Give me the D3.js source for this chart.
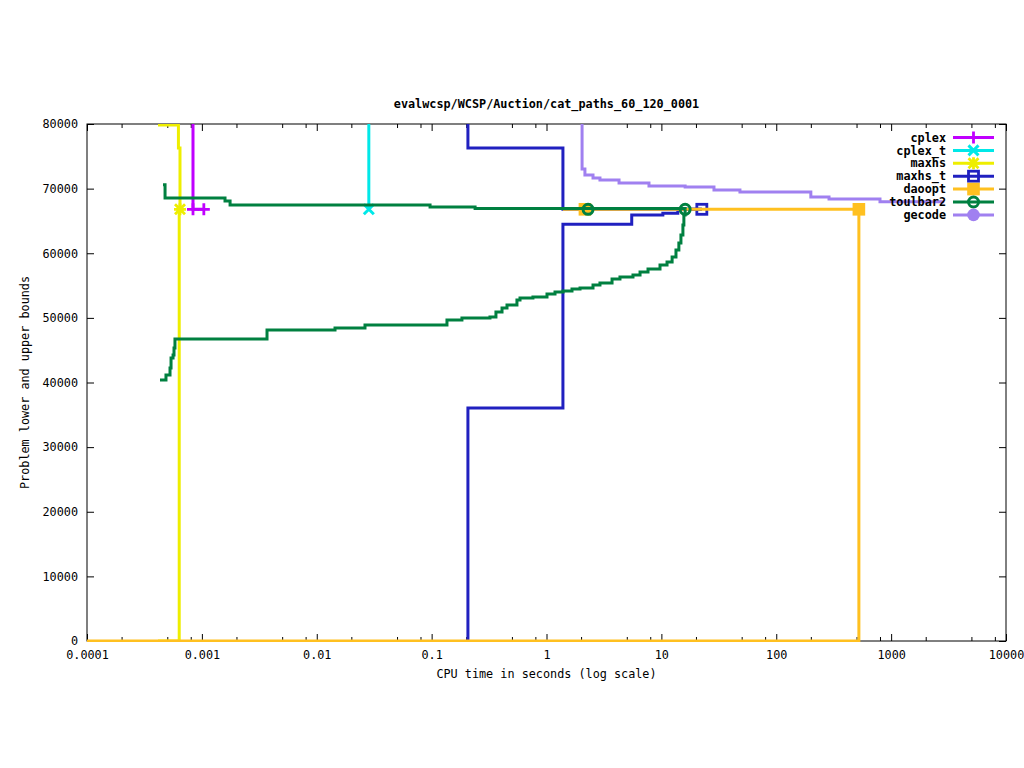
<!DOCTYPE html>
<html><head><meta charset="utf-8">
<script src="https://cdn.jsdelivr.net/npm/d3@7"></script>
<style>
body{margin:0;background:#fff;}
text{font-family:"DejaVu Sans Mono","Liberation Mono",monospace;font-size:11.8px;fill:#000;}
</style></head>
<body><svg id="chart" width="1024" height="768"></svg>
<script>
// ---- data (time in seconds, value) ----
const title = "evalwcsp/WCSP/Auction/cat_paths_60_120_0001";
const xLabel = "CPU time in seconds (log scale)";
const yLabel = "Problem lower and upper bounds";
const xMajorTicks = [0.0001, 0.001, 0.01, 0.1, 1, 10, 100, 1000, 10000];
const xTickLabels = ["0.0001", "0.001", "0.01", "0.1", "1", "10", "100", "1000", "10000"];
const xMinorMultipliers = [2, 5, 8];
const yTicks = [0, 10000, 20000, 30000, 40000, 50000, 60000, 70000, 80000];
const seriesNames = ["cplex", "cplex_t", "maxhs", "maxhs_t", "daoopt", "toulbar2", "gecode"];
const seriesColors = ["#c000ff", "#00e8e8", "#eeee00", "#2020c0", "#ffc020", "#008040", "#a080f0"];
const seriesMarkers = ["plus", "cross", "star", "openSquare", "filledSquare", "openCircle", "filledCircle"];

const cplexUpper = [[0.000837, 95000], [0.000837, 66800], [0.00104, 66800]];
const cplexPoints = [[0.000837, 66800], [0.00104, 66800]];

const cplexTUpper = [[0.0284, 95000], [0.0284, 66800]];
const cplexTPoints = [[0.0284, 66800]];

const maxhsUpper = [[0.000415, 79850], [0.000625, 76290], [0.000645, 66800]];
const maxhsLower = [[0.000415, 0], [0.000635, 66800]];
const maxhsPoints = [[0.000645, 66800]];

const maxhsTUpper = [[0.207, 95000], [0.207, 76290], [1.39, 66800], [22.5, 66800]];
const maxhsTLower = [[0.207, 0], [0.207, 36050], [1.39, 64480], [5.52, 65920], [10.3, 66180], [13.9, 66800], [22.5, 66800]];
const maxhsTPoints = [[22.5, 66800]];

const daooptUpper = [[1.39, 66800], [524, 66800]];
const daooptLower = [[0.0001, 0], [524, 0], [524, 66800]];
const daooptPoints = [[2.16, 66800], [524, 66800]];

const toulbar2Upper = [[0.000459, 70600], [0.000478, 68550], [0.00159, 68090], [0.00176, 67470],
  [0.0969, 67160], [0.239, 66930], [16.1, 66800]];
const toulbar2Lower = [[0.000432, 40390], [0.000487, 41160], [0.000528, 42240], [0.000539, 43790],
  [0.000561, 44260], [0.000572, 45340], [0.000583, 46730], [0.00369, 48120], [0.01442, 48430],
  [0.0263, 48900], [0.136, 49670], [0.1836, 49980], [0.322, 50140], [0.363, 50910], [0.41, 51530],
  [0.453, 51990], [0.553, 52770], [0.588, 53080], [0.762, 53230], [1.01, 53700], [1.186, 54000],
  [1.393, 54160], [1.667, 54470], [1.958, 54620], [2.54, 55090], [2.92, 55400], [3.72, 56020],
  [4.36, 56330], [5.66, 56640], [6.52, 57100], [7.65, 57560], [9.73, 58180], [11.2, 58650],
  [12.4, 59420], [13.4, 60500], [14.2, 61590], [14.8, 62820], [15.4, 64370], [15.7, 65920], [16.1, 66800]];
const toulbar2Points = [[2.3, 66800], [16.1, 66800]];

const gecodeUpper = [[2.04, 95000], [2.04, 73040], [2.16, 72110], [2.54, 71650], [2.92, 71340],
  [4.28, 70870], [7.8, 70410], [16.1, 70250], [28.7, 69790], [48.3, 69480], [200, 68710],
  [288, 68400], [800, 67980], [2900, 67980]];
const gecodePoints = [];

const seriesLines = [
  [cplexUpper], [cplexTUpper], [maxhsUpper, maxhsLower], [maxhsTUpper, maxhsTLower],
  [daooptUpper, daooptLower], [toulbar2Upper, toulbar2Lower], [gecodeUpper]
];
const seriesPoints = [cplexPoints, cplexTPoints, maxhsPoints, maxhsTPoints, daooptPoints, toulbar2Points, gecodePoints];

// ---- drawing ----
const svg = d3.select("#chart");
const L = 87, R = 1006, T = 124, B = 641;
const LW = 3;
const x = d3.scaleLog().domain([1e-4, 1e4]).range([L, R]);
const y = d3.scaleLinear().domain([0, 80000]).range([B, T]);

const minorTicks = [];
for (let e = -4; e < 4; e++) xMinorMultipliers.forEach(m => minorTicks.push(m * Math.pow(10, e)));

function styleAxis(g) {
  g.select(".domain").remove();
  g.selectAll(".tick line").attr("stroke", "#000").attr("stroke-width", 1);
  g.selectAll("text").attr("font-family", null).attr("font-size", null);
}

// border first (gnuplot draws plots over it)
svg.append("rect").attr("x", L).attr("y", T).attr("width", R - L).attr("height", B - T)
  .attr("fill", "none").attr("stroke", "#000").attr("stroke-width", 1);

// bottom
svg.append("g").attr("transform", `translate(0,${B})`)
  .call(d3.axisBottom(x).tickValues(xMajorTicks).tickSizeInner(-7).tickSizeOuter(0).tickPadding(10)
    .tickFormat((d, i) => xTickLabels[i]))
  .call(styleAxis);
svg.append("g").attr("transform", `translate(0,${B})`)
  .call(d3.axisBottom(x).tickValues(minorTicks).tickSizeInner(-4).tickSizeOuter(0).tickFormat(""))
  .call(styleAxis);
// top
svg.append("g").attr("transform", `translate(0,${T})`)
  .call(d3.axisTop(x).tickValues(xMajorTicks).tickSizeInner(-7).tickSizeOuter(0).tickFormat(""))
  .call(styleAxis);
svg.append("g").attr("transform", `translate(0,${T})`)
  .call(d3.axisTop(x).tickValues(minorTicks).tickSizeInner(-4).tickSizeOuter(0).tickFormat(""))
  .call(styleAxis);
// left
svg.append("g").attr("transform", `translate(${L},0)`)
  .call(d3.axisLeft(y).tickValues(yTicks).tickSizeInner(-7).tickSizeOuter(0).tickPadding(9)
    .tickFormat(d3.format("d")))
  .call(styleAxis);
// right
svg.append("g").attr("transform", `translate(${R},0)`)
  .call(d3.axisRight(y).tickValues(yTicks).tickSizeInner(-7).tickSizeOuter(0).tickFormat(""))
  .call(styleAxis);

// titles
svg.append("text").attr("x", (L + R) / 2).attr("y", 108).attr("text-anchor", "middle")
  .attr("font-weight", "bold").text(title);
svg.append("text").attr("x", (L + R) / 2).attr("y", 678).attr("text-anchor", "middle").text(xLabel);
svg.append("text").attr("transform", `translate(29,${(T + B) / 2}) rotate(-90)`)
  .attr("text-anchor", "middle").text(yLabel);

// clip
svg.append("clipPath").attr("id", "plotclip").append("rect")
  .attr("x", L).attr("y", T).attr("width", R - L).attr("height", B - T + 1);

const plot = svg.append("g").attr("clip-path", "url(#plotclip)");
const line = d3.line().x(d => x(d[0])).y(d => y(d[1])).curve(d3.curveStepAfter);

function marker(g, type, cx, cy, color) {
  const sw = 2.8;
  if (type === "plus") {
    g.append("path").attr("d", `M${cx - 6},${cy}H${cx + 6}M${cx},${cy - 6}V${cy + 6}`)
      .attr("stroke", color).attr("stroke-width", sw).attr("fill", "none");
  } else if (type === "cross") {
    g.append("path").attr("d", `M${cx - 5},${cy - 5}L${cx + 5},${cy + 5}M${cx - 5},${cy + 5}L${cx + 5},${cy - 5}`)
      .attr("stroke", color).attr("stroke-width", 3).attr("fill", "none");
  } else if (type === "star") {
    g.append("path").attr("d", `M${cx - 6},${cy}H${cx + 6}M${cx},${cy - 6}V${cy + 6}M${cx - 5},${cy - 5}L${cx + 5},${cy + 5}M${cx - 5},${cy + 5}L${cx + 5},${cy - 5}`)
      .attr("stroke", color).attr("stroke-width", sw).attr("fill", "none");
  } else if (type === "openSquare") {
    g.append("rect").attr("x", cx - 5).attr("y", cy - 5).attr("width", 10).attr("height", 10)
      .attr("stroke", color).attr("stroke-width", sw).attr("fill", "none");
  } else if (type === "filledSquare") {
    g.append("rect").attr("x", cx - 6.3).attr("y", cy - 6.3).attr("width", 12.6).attr("height", 12.6)
      .attr("fill", color);
  } else if (type === "openCircle") {
    g.append("circle").attr("cx", cx).attr("cy", cy).attr("r", 5)
      .attr("stroke", color).attr("stroke-width", 3).attr("fill", "none");
  } else if (type === "filledCircle") {
    g.append("circle").attr("cx", cx).attr("cy", cy).attr("r", 6.3).attr("fill", color);
  }
}

seriesNames.forEach((name, i) => {
  const g = plot.append("g");
  seriesLines[i].forEach(data => {
    g.append("path").attr("d", line(data)).attr("fill", "none")
      .attr("stroke", seriesColors[i]).attr("stroke-width", LW);
  });
  seriesPoints[i].forEach(p => marker(g, seriesMarkers[i], x(p[0]), y(p[1]), seriesColors[i]));
});

// legend
const legend = svg.append("g");
seriesNames.forEach((name, i) => {
  const ly = 137.5 + i * 12.9;
  legend.append("text").attr("x", 946).attr("y", ly).attr("dy", "0.35em")
    .attr("text-anchor", "end").attr("font-weight", "bold").text(name);
  legend.append("line").attr("x1", 953).attr("x2", 994).attr("y1", ly).attr("y2", ly)
    .attr("stroke", seriesColors[i]).attr("stroke-width", LW);
  marker(legend, seriesMarkers[i], 973.5, ly, seriesColors[i]);
});
</script></body></html>
